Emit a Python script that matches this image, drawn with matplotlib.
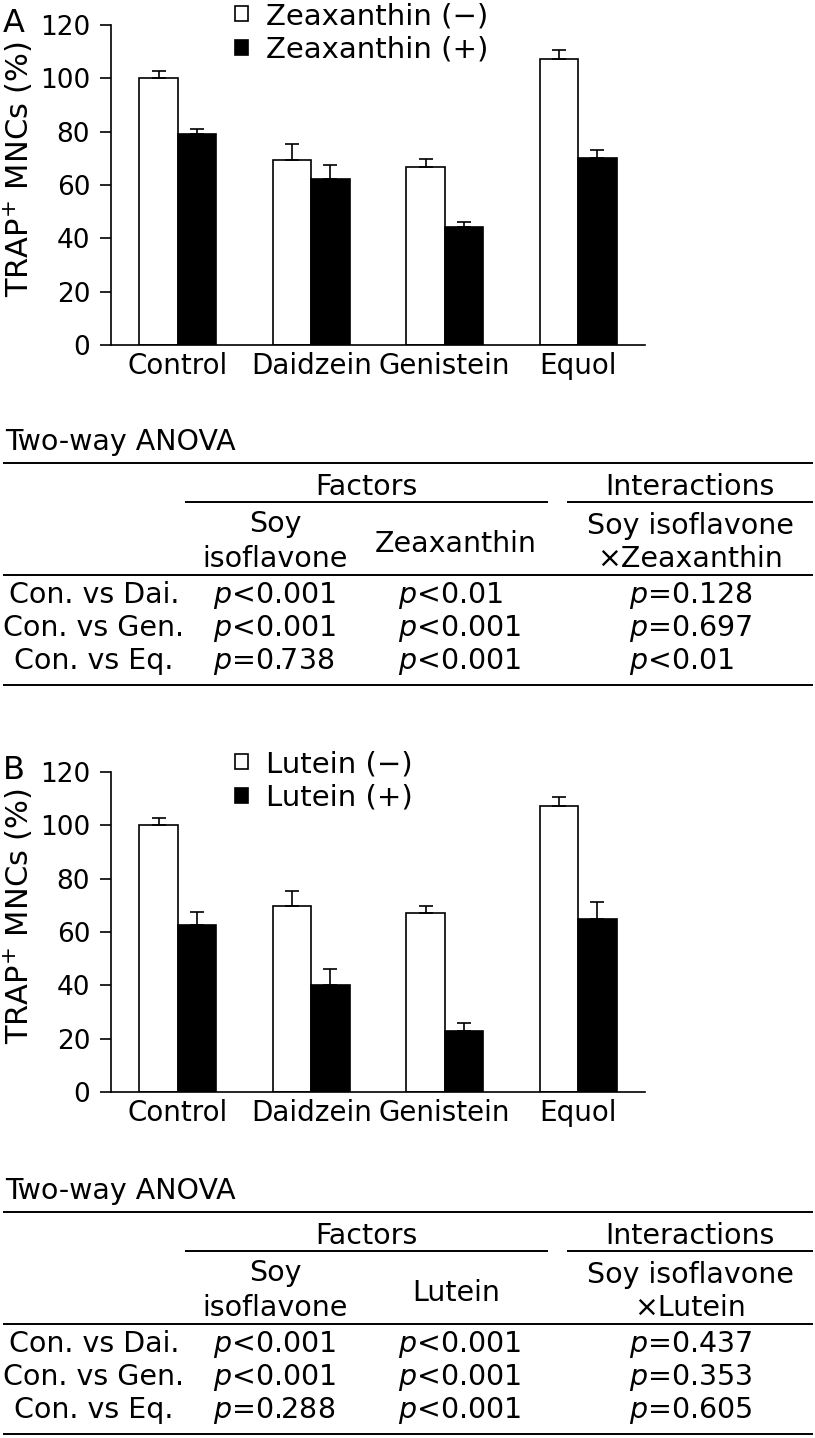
"""TRAP+ MNC bar charts with two-way ANOVA summary tables (panels A and B)."""

import matplotlib.pyplot as plt
import numpy as np

groups = ["Control", "Daidzein", "Genistein", "Equol"]

zea_minus = [100.0, 69.4, 66.8, 107.2]
zea_minus_err = [2.7, 5.9, 2.9, 3.3]
zea_plus = [79.0, 62.1, 44.1, 70.1]
zea_plus_err = [1.9, 5.4, 1.9, 3.2]

lut_minus = [100.0, 69.6, 67.0, 107.3]
lut_minus_err = [2.8, 5.7, 2.9, 3.4]
lut_plus = [62.6, 40.0, 22.9, 65.0]
lut_plus_err = [4.8, 6.3, 3.0, 6.2]

comparisons = ["Con. vs Dai.", "Con. vs Gen.", "Con. vs Eq."]
zea_p_soy = ["<0.001", "<0.001", "=0.738"]
zea_p_factor = ["<0.01", "<0.001", "<0.001"]
zea_p_inter = ["=0.128", "=0.697", "<0.01"]
lut_p_soy = ["<0.001", "<0.001", "=0.288"]
lut_p_factor = ["<0.001", "<0.001", "<0.001"]
lut_p_inter = ["=0.437", "=0.353", "=0.605"]

plt.rcParams["font.family"] = "DejaVu Sans"
plt.rcParams["mathtext.fontset"] = "dejavusans"
FS = 21
TFS = 20.5  # table text
LW = 1.2
W, H = 815, 1438

fig = plt.figure(figsize=(W / 100, H / 100), dpi=100)
# full-page axes in pixel units for the tables and panel letters
page = fig.add_axes([0, 0, 1, 1])
page.set_xlim(0, W)
page.set_ylim(H, 0)
page.axis("off")


def bar_panel(top, letter, name, minus, minus_err, plus, plus_err, legend_y):
    ax = fig.add_axes([111 / W, 1 - (top + 320) / H, 534 / W, 320 / H])
    x = np.arange(len(groups))
    w = 0.287
    err_kw = dict(elinewidth=LW, capthick=LW, ecolor="black")
    b1 = ax.bar(x - w / 2, minus, w, yerr=[np.zeros(len(x)), minus_err],
                color="white", edgecolor="black", linewidth=LW,
                capsize=4.7, error_kw=err_kw)
    b2 = ax.bar(x + w / 2, plus, w, yerr=[np.zeros(len(x)), plus_err],
                color="black", edgecolor="black", linewidth=LW,
                capsize=4.7, error_kw=err_kw)
    ax.set_xlim(-0.5, 3.5)
    ax.set_ylim(0, 120)
    ax.set_yticks(np.arange(0, 121, 20))
    ax.set_xticks(x)
    ax.set_xticklabels(groups)
    for s in ["top", "right"]:
        ax.spines[s].set_visible(False)
    for s in ["left", "bottom"]:
        ax.spines[s].set_linewidth(LW)
    ax.tick_params(axis="y", direction="out", length=8, width=LW, pad=7,
                   labelsize=19)
    ax.tick_params(axis="x", length=0, pad=5, labelsize=20)
    ax.set_ylabel("TRAP$^{+}$ MNCs (%)", fontsize=22)
    ax.yaxis.set_label_coords((35 - 111) / 534, 0.55)
    ax.legend([b1, b2], [f"{name} (\u2212)", f"{name} (+)"],
              loc="upper left", bbox_to_anchor=(235 / W, 1 - legend_y / H),
              bbox_transform=fig.transFigure, frameon=False, fontsize=FS,
              handlelength=0.45, handleheight=0.45, handletextpad=0.62,
              labelspacing=0.2, borderpad=0, borderaxespad=0)
    page.text(3, top + 7, letter, fontsize=23, ha="left", va="baseline")
    return ax


def rule(x0, x1, y):
    page.plot([x0, x1], [y, y], color="black", lw=1.4, solid_capstyle="butt")


def anova_table(dy, factor, soy, fac, inter):
    page.text(5, 450 + dy, "Two-way ANOVA", fontsize=TFS, va="baseline")
    rule(3, 813, 463 + dy)
    page.text(366, 495 + dy, "Factors", fontsize=TFS, ha="center", va="baseline")
    page.text(690, 495 + dy, "Interactions", fontsize=TFS, ha="center", va="baseline")
    rule(185, 548, 502 + dy)
    rule(567, 813, 502 + dy)
    page.text(275, 532 + dy, "Soy", fontsize=TFS, ha="center", va="baseline")
    page.text(275, 567 + dy, "isoflavone", fontsize=TFS, ha="center", va="baseline")
    page.text(456, 552 + dy, factor, fontsize=TFS, ha="center", va="baseline")
    page.text(690, 534 + dy, "Soy isoflavone", fontsize=TFS, ha="center", va="baseline")
    page.text(690, 567 + dy, "\u00d7" + factor, fontsize=TFS, ha="center", va="baseline")
    rule(3, 813, 575 + dy)
    for i, comp in enumerate(comparisons):
        y = 603 + 33 * i + dy
        page.text(94, y, comp, fontsize=TFS, ha="center", va="baseline")
        page.text(213, y, "$p$" + soy[i], fontsize=TFS, ha="left", va="baseline")
        page.text(398, y, "$p$" + fac[i], fontsize=TFS, ha="left", va="baseline")
        page.text(629, y, "$p$" + inter[i], fontsize=TFS, ha="left", va="baseline")
    rule(3, 813, 685 + dy)


bar_panel(25, "A", "Zeaxanthin", zea_minus, zea_minus_err, zea_plus, zea_plus_err, 2)
anova_table(0, "Zeaxanthin", zea_p_soy, zea_p_factor, zea_p_inter)

bar_panel(772, "B", "Lutein", lut_minus, lut_minus_err, lut_plus, lut_plus_err, 750)
anova_table(749, "Lutein", lut_p_soy, lut_p_factor, lut_p_inter)

fig.savefig("out.png", dpi=100)
